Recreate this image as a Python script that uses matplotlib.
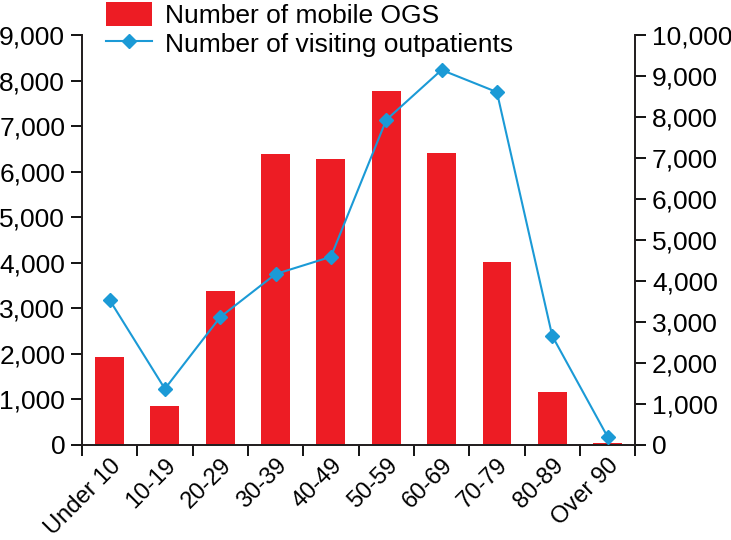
import numpy as np
import matplotlib.pyplot as plt
from matplotlib import font_manager

# age groups and counts
categories = ['Under 10', '10-19', '20-29', '30-39', '40-49', '50-59', '60-69', '70-79', '80-89', 'Over 90']
mobile_ogs = [1930, 860, 3380, 6400, 6270, 7770, 6420, 4020, 1160, 40]
outpatients = [3540, 1370, 3120, 4170, 4590, 7930, 9150, 8610, 2660, 200]
left_ticks = [0, 1000, 2000, 3000, 4000, 5000, 6000, 7000, 8000, 9000]
right_ticks = [0, 1000, 2000, 3000, 4000, 5000, 6000, 7000, 8000, 9000, 10000]

names = {f.name for f in font_manager.fontManager.ttflist}
fam = 'Liberation Sans Narrow' if 'Liberation Sans Narrow' in names else 'Liberation Sans'
plt.rcParams['font.family'] = [fam, 'DejaVu Sans']
plt.rcParams['font.size'] = 19

red = '#ed1c24'
blue = '#1b9ad6'

fig = plt.figure(figsize=(7.31, 5.40), dpi=100)
ax = fig.add_axes([0.112, 0.176, 0.757, 0.759])
ax2 = ax.twinx()

x = np.arange(len(categories))
b = ax.bar(x, mobile_ogs, width=0.52, color=red, label='Number of mobile OGS', zorder=2)
l, = ax2.plot(x, outpatients, color=blue, lw=1.5, marker='D', markersize=7,
              label='Number of visiting outpatients', zorder=3)

ax.set_xlim(-0.5, len(categories) - 0.5)
ax.set_ylim(0, 9000)
ax2.set_ylim(0, 10000)
ax.set_yticks(left_ticks)
ax.set_yticklabels([f'{v:,}' for v in left_ticks])
ax2.set_yticks(right_ticks)
ax2.set_yticklabels([f'{v:,}' for v in right_ticks])

ax.set_xticks(x)
ax.set_xticklabels(categories, rotation=45, ha='right', rotation_mode='anchor', fontsize=17)
ax.tick_params(axis='x', length=0, pad=7)
ax.set_xticks(np.arange(-0.5, len(categories)), minor=True)
ax.tick_params(axis='x', which='minor', length=8, width=1.3, direction='out')

ax.tick_params(axis='y', length=8, width=1.3, direction='out', pad=4)
ax2.tick_params(axis='y', length=8, width=1.3, direction='out', pad=4)

for a in (ax, ax2):
    a.spines['top'].set_visible(False)
    for s in ('left', 'right', 'bottom'):
        a.spines[s].set_linewidth(1.3)
        a.spines[s].set_color('#231f20')

fig.legend(handles=[b, l], loc='upper left', bbox_to_anchor=(0.130, 1.015),
           frameon=False, handlelength=1.75, handleheight=1.0, labelspacing=0.1,
           handletextpad=0.5, borderaxespad=0, fontsize=19)

fig.savefig('out.png', dpi=100)
